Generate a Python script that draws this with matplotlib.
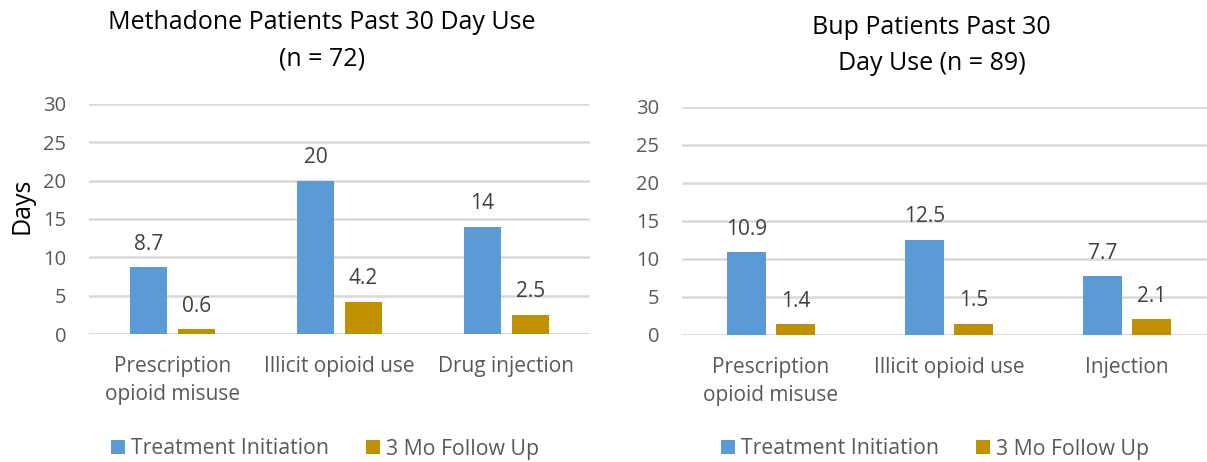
import matplotlib
matplotlib.use("Agg")
import matplotlib.pyplot as plt
import numpy as np

plt.rcParams['font.family'] = ['Open Sans', 'DejaVu Sans']

series_names = ["Treatment Initiation", "3 Mo Follow Up"]
colors = ["#5B9BD5", "#BF9000"]

meth_categories = ["Prescription\nopioid misuse", "Illicit opioid use", "Drug injection"]
meth_initiation = [8.7, 20, 14]
meth_followup = [0.6, 4.2, 2.5]
meth_title = "Methadone Patients Past 30 Day Use\n(n = 72)"

bup_categories = ["Prescription\nopioid misuse", "Illicit opioid use", "Injection"]
bup_initiation = [10.9, 12.5, 7.7]
bup_followup = [1.4, 1.5, 2.1]
bup_title = "Bup Patients Past 30\nDay Use (n = 89)"

yticks = [0, 5, 10, 15, 20, 25, 30]

W, H = 1207, 462
fig = plt.figure(figsize=(W / 100, H / 100), dpi=100)

text_col = "#595959"
label_col = "#404040"
grid_col = "#D9D9D9"


def fmt(v):
    return f"{v:g}"


def draw(rect, cats, init, fup, title, title_x, title_y, legend_x, w, off):
    ax = fig.add_axes(rect)
    x = np.arange(len(cats))
    b1 = ax.bar(x - off, init, w, color=colors[0], label=series_names[0], zorder=3)
    b2 = ax.bar(x + off, fup, w, color=colors[1], label=series_names[1], zorder=3)
    for bars, vals in ((b1, init), (b2, fup)):
        for b, v in zip(bars, vals):
            ax.annotate(fmt(v), (b.get_x() + b.get_width() / 2, v),
                        xytext=(0, 9), textcoords="offset points",
                        ha="center", va="bottom", fontsize=15, color=label_col)
    ax.set_xlim(-0.5, len(cats) - 0.5)
    ax.set_ylim(0, 30)
    ax.set_yticks(yticks)
    ax.set_yticklabels([str(t) for t in yticks])
    ax.set_xticks(x)
    ax.set_xticklabels(cats, linespacing=1.44)
    ax.tick_params(axis="both", length=0, colors=text_col)
    ax.tick_params(axis="y", pad=16.5, labelsize=14.5)
    ax.tick_params(axis="x", pad=16, labelsize=15)
    ax.yaxis.grid(True, color=grid_col, linewidth=1.8, zorder=0)
    ax.set_axisbelow(True)
    for s in ax.spines.values():
        s.set_visible(False)
    ax.axhline(0, color=grid_col, linewidth=1.8, zorder=2)
    fig.text(title_x / W, 1 - title_y / H, title, ha="center", va="top",
             fontsize=18, color="black", linespacing=1.6)
    h, l = ax.get_legend_handles_labels()
    fig.legend(h, l, loc="center", bbox_to_anchor=(legend_x / W, 1 - 449 / H),
               ncol=2, frameon=False, fontsize=15.3, handlelength=0.66,
               handleheight=0.66, handletextpad=0.3, columnspacing=1.7,
               labelcolor=text_col, borderpad=0, borderaxespad=0)
    return ax


ax1 = draw([89 / W, 1 - 334 / H, 501 / W, 230 / H], meth_categories,
           meth_initiation, meth_followup, meth_title, 322, 10, 325,
           0.222, 0.144)
fig.text(22 / W, 1 - 206 / H, "Days", rotation=90, ha="center", va="center",
         fontsize=18, color="black")

ax2 = draw([682 / W, 1 - 335 / H, 534 / W, 228 / H], bup_categories,
           bup_initiation, bup_followup, bup_title, 931.5, 14.5, 935,
           0.219, 0.138)

fig.savefig("out.png", dpi=100)
